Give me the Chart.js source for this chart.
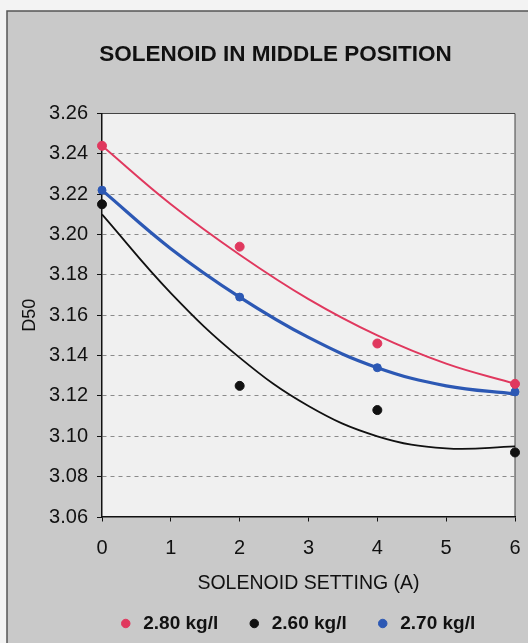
<!DOCTYPE html>
<html>
<head>
<meta charset="utf-8">
<script src="https://cdn.jsdelivr.net/npm/chart.js@4.4.1/dist/chart.umd.min.js"></script>
<style>
  html, body { margin: 0; padding: 0; background: #f3f3f3; }
  #wrap { width: 528px; height: 643px; }
</style>
</head>
<body>
<div id="wrap"><canvas id="solenoidChart" width="528" height="643"></canvas></div>
<script>
// measured D50 values
const settings = [0, 2, 4, 6];
const d50_280 = [3.244, 3.194, 3.146, 3.126];
const d50_260 = [3.215, 3.125, 3.113, 3.092];
const d50_270 = [3.222, 3.169, 3.134, 3.122];

// trend curves at each amp
const trendX = [0, 1, 2, 3, 4, 5, 6];
const trend_280 = [3.244, 3.215, 3.190, 3.168, 3.150, 3.136, 3.126];
const trend_260 = [3.210, 3.171, 3.139, 3.115, 3.100, 3.094, 3.095];
const trend_270 = [3.222, 3.193, 3.169, 3.149, 3.134, 3.125, 3.121];

const seriesLabels = ['2.80 kg/l', '2.60 kg/l', '2.70 kg/l'];
const xTicks = [0, 1, 2, 3, 4, 5, 6];
const yTicks = [3.06, 3.08, 3.10, 3.12, 3.14, 3.16, 3.18, 3.20, 3.22, 3.24, 3.26];

const RED = '#e0385e';
const BLACK = '#111111';
const BLUE = '#2c58b4';
const FONT = '"Liberation Sans", Arial, sans-serif';

function pts(xs, ys) {
    return xs.map((x, i) => ({ x: x, y: ys[i] }));
}

const paperPlugin = {
    id: 'paper',
    afterLayout(chart) {
        // title and legend sit a bit right of the canvas centre
        chart.titleBlock.left += 13;
        chart.titleBlock.right += 13;
        chart.legend.left += 34;
        chart.legend.right += 34;
    },
    beforeDraw(chart) {
        const { ctx, width, height, chartArea: a } = chart;
        ctx.save();
        ctx.fillStyle = '#f3f3f3';
        ctx.fillRect(0, 0, width, height);
        ctx.fillStyle = '#c9c9c9';
        ctx.fillRect(7, 11, width - 7, height - 11);
        ctx.strokeStyle = '#555';
        ctx.lineWidth = 1.5;
        ctx.beginPath();
        ctx.moveTo(7, height);
        ctx.lineTo(7, 11);
        ctx.lineTo(width, 11);
        ctx.stroke();
        ctx.fillStyle = '#f0f0f0';
        ctx.fillRect(a.left, a.top, a.right - a.left, a.bottom - a.top);
        ctx.strokeStyle = '#444';
        ctx.lineWidth = 1;
        ctx.beginPath();
        ctx.moveTo(a.left, a.top);
        ctx.lineTo(a.right, a.top);
        ctx.lineTo(a.right, a.bottom);
        ctx.stroke();
        ctx.restore();
    }
};

const ctx = document.getElementById('solenoidChart');
new Chart(ctx, {
    type: 'scatter',
    data: {
        datasets: [
            {
                label: seriesLabels[0],
                data: pts(settings, d50_280),
                backgroundColor: RED,
                borderColor: RED,
                pointRadius: 4.5,
                clip: false
            },
            {
                label: seriesLabels[1],
                data: pts(settings, d50_260),
                backgroundColor: BLACK,
                borderColor: BLACK,
                pointRadius: 4.5,
                clip: false
            },
            {
                label: seriesLabels[2],
                data: pts(settings, d50_270),
                backgroundColor: BLUE,
                borderColor: BLUE,
                pointRadius: 4,
                clip: false
            },
            {
                label: 'trend 2.80',
                data: pts(trendX, trend_280),
                showLine: true,
                borderColor: RED,
                borderWidth: 2,
                pointRadius: 0,
                tension: 0.4
            },
            {
                label: 'trend 2.60',
                data: pts(trendX, trend_260),
                showLine: true,
                borderColor: BLACK,
                borderWidth: 1.8,
                pointRadius: 0,
                tension: 0.4
            },
            {
                label: 'trend 2.70',
                data: pts(trendX, trend_270),
                showLine: true,
                borderColor: BLUE,
                borderWidth: 3.2,
                pointRadius: 0,
                tension: 0.4
            }
        ]
    },
    options: {
        responsive: false,
        animation: false,
        events: [],
        layout: {
            padding: { left: 10, right: 13, top: 0, bottom: 0 }
        },
        scales: {
            x: {
                type: 'linear',
                min: 0,
                max: 6,
                afterBuildTicks: s => { s.ticks = xTicks.map(v => ({ value: v })); },
                afterFit: s => { s.height = 69; },
                ticks: {
                    color: BLACK,
                    font: { family: FONT, size: 20 },
                    padding: 5
                },
                grid: {
                    drawOnChartArea: false,
                    drawTicks: true,
                    tickLength: 14,
                    tickColor: BLACK,
                    tickBorderDash: [4, 40]
                },
                border: { color: BLACK, width: 1.5 },
                title: {
                    display: true,
                    text: 'SOLENOID SETTING (A)',
                    color: BLACK,
                    font: { family: FONT, size: 19.5 },
                    padding: { top: 0, bottom: -9 }
                }
            },
            y: {
                min: 3.06,
                max: 3.26,
                afterBuildTicks: s => { s.ticks = yTicks.map(v => ({ value: v })); },
                afterFit: s => { s.width = 92; },
                ticks: {
                    color: BLACK,
                    font: { family: FONT, size: 20 },
                    padding: 9,
                    callback: v => v.toFixed(2)
                },
                grid: {
                    color: c => (c.index === 0 || c.index === yTicks.length - 1) ? 'rgba(0,0,0,0)' : '#8a8a8a',
                    lineWidth: 1,
                    tickLength: 5,
                    tickColor: BLACK
                },
                border: { color: BLACK, width: 1.5, dash: [4, 4] },
                title: {
                    display: true,
                    text: 'D50',
                    color: BLACK,
                    font: { family: FONT, size: 18 },
                    padding: { top: 9, bottom: 0 }
                }
            }
        },
        plugins: {
            title: {
                display: true,
                text: 'SOLENOID IN MIDDLE POSITION',
                color: BLACK,
                font: { family: FONT, size: 22.5, weight: 'bold' },
                padding: { top: 41, bottom: 45.5 }
            },
            legend: {
                position: 'bottom',
                labels: {
                    filter: item => item.datasetIndex < 3,
                    usePointStyle: true,
                    pointStyle: 'circle',
                    boxWidth: 16,
                    boxHeight: 6,
                    padding: 28,
                    color: BLACK,
                    font: { family: FONT, size: 19, weight: 'bold' }
                }
            },
            tooltip: { enabled: false }
        }
    },
    plugins: [paperPlugin]
});
</script>
</body>
</html>
